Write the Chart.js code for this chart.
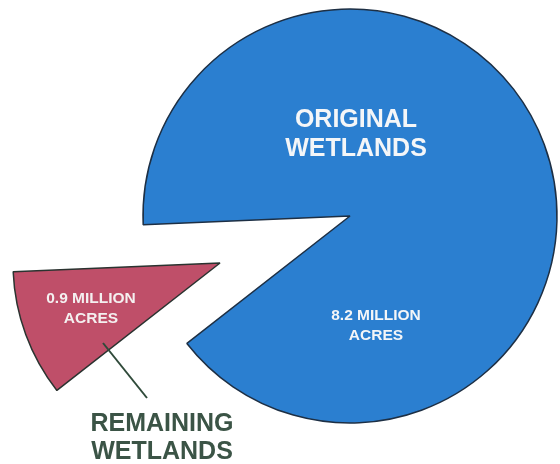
<!DOCTYPE html>
<html>
<head>
<meta charset="utf-8">
<script src="https://cdn.jsdelivr.net/npm/chart.js@4.4.1/dist/chart.umd.min.js"></script>
<style>
  html, body { margin: 0; padding: 0; background: #fff; }
  .wrap { position: relative; width: 560px; height: 464px; }
  .wrap > canvas { position: absolute; left: 0; top: 0; }
</style>
</head>
<body>
<div class="wrap">
  <canvas id="originalChart" width="560" height="464"></canvas>
  <canvas id="remainingChart" width="560" height="464"></canvas>
</div>
<script>
// Wetland acreage, millions of acres
const categories = ['Original wetlands', 'Remaining wetlands'];
const acres = [8.2, 0.9];
const sliceLabels = ['8.2 MILLION ACRES', '0.9 MILLION ACRES'];

const BLUE = '#2b7fd0';
const RED = '#bf4f69';
const CLEAR = 'rgba(0,0,0,0)';
const FONT = '"Liberation Sans", Arial, sans-serif';

// draws a few lines of text centred on a point
function drawLines(ctx, lines, x, y, size, color, lineH) {
    ctx.save();
    ctx.font = 'bold ' + size + 'px ' + FONT;
    ctx.textAlign = 'center';
    ctx.textBaseline = 'middle';
    ctx.fillStyle = color;
    lines.forEach((t, i) => ctx.fillText(t, x, y + (i - (lines.length - 1) / 2) * lineH));
    ctx.restore();
}

function pieOptions(padding) {
    return {
        responsive: false,
        animation: false,
        rotation: 267.6,
        radius: 207,
        layout: { padding: padding },
        plugins: { legend: { display: false }, tooltip: { enabled: false } }
    };
}

// Big blue pie with the remaining slice cut out
new Chart(document.getElementById('originalChart'), {
    type: 'pie',
    data: {
        labels: categories,
        datasets: [{
            data: acres,
            backgroundColor: [BLUE, CLEAR],
            borderColor: ['#1d2f44', CLEAR],
            borderWidth: 1.5,
            clip: false
        }]
    },
    options: pieOptions({ left: 140, right: 0, top: 0, bottom: 32 }),
    plugins: [{
        id: 'blueText',
        afterDatasetsDraw(chart) {
            const arc = chart.getDatasetMeta(0).data[0];
            const ctx = chart.ctx;
            drawLines(ctx, ['ORIGINAL', 'WETLANDS'], arc.x + 6, arc.y - 81, 25, '#f4f6f8', 29);
            const words = sliceLabels[0].split(' ');
            drawLines(ctx, [words.slice(0, 2).join(' '), words[2]], arc.x + 26, arc.y + 110, 15.5, '#f4f6f8', 20);
        }
    }]
});

// The remaining slice, pulled out of the pie
new Chart(document.getElementById('remainingChart'), {
    type: 'pie',
    data: {
        labels: categories,
        datasets: [{
            data: acres,
            backgroundColor: [CLEAR, RED],
            borderColor: [CLEAR, '#2a3330'],
            borderWidth: 1.5,
            clip: false
        }]
    },
    options: pieOptions({ left: 0, right: 120, top: 62, bottom: 0 }),
    plugins: [{
        id: 'redText',
        afterDatasetsDraw(chart) {
            const arc = chart.getDatasetMeta(0).data[1];
            const ctx = chart.ctx;
            const words = sliceLabels[1].split(' ');
            drawLines(ctx, [words.slice(0, 2).join(' '), words[2]], arc.x - 129, arc.y + 46, 15.5, '#f4f0f0', 20);
            // leader line to the caption
            ctx.save();
            ctx.strokeStyle = '#2f4a3a';
            ctx.lineWidth = 2;
            ctx.beginPath();
            ctx.moveTo(arc.x - 117, arc.y + 80);
            ctx.lineTo(arc.x - 73, arc.y + 135);
            ctx.stroke();
            ctx.restore();
            drawLines(ctx, ['REMAINING', 'WETLANDS'], arc.x - 58, arc.y + 175, 25, '#3b5446', 28);
        }
    }]
});
</script>
</body>
</html>
